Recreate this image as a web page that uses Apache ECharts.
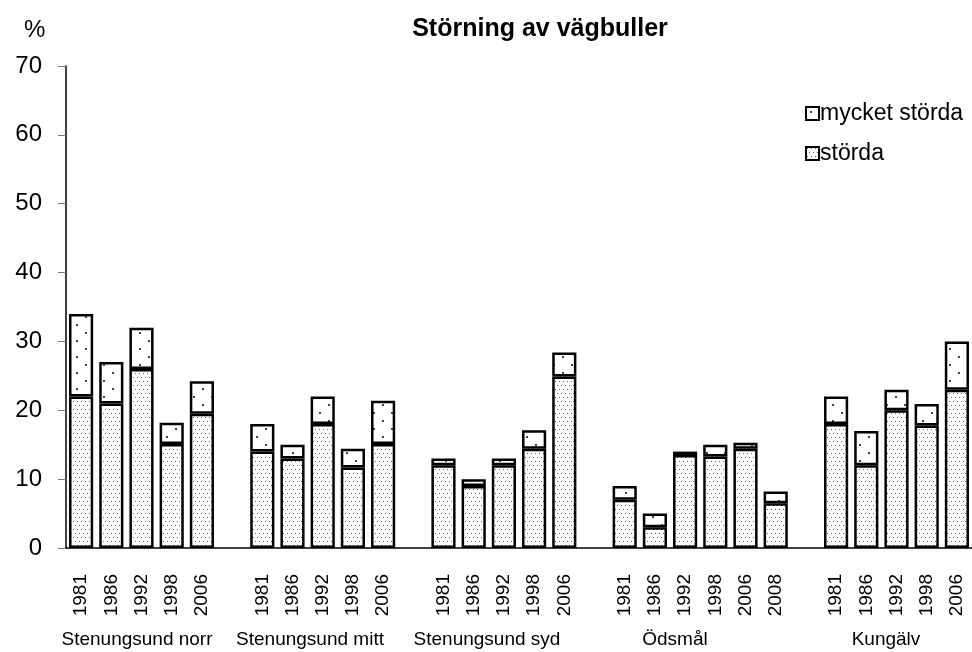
<!DOCTYPE html>
<html>
<head>
<meta charset="utf-8">
<script src="https://cdn.jsdelivr.net/npm/echarts@6/dist/echarts.min.js"></script>
<style>
  html, body { margin: 0; padding: 0; background: #fff; }
  #chart { width: 972px; height: 652px; }
</style>
</head>
<body>
<div id="chart"></div>
<script>
const groupNames = ['Stenungsund norr', 'Stenungsund mitt', 'Stenungsund syd', 'Ödsmål', 'Kungälv']
const groupYears = [
  ['1981', '1986', '1992', '1998', '2006'],
  ['1981', '1986', '1992', '1998', '2006'],
  ['1981', '1986', '1992', '1998', '2006'],
  ['1981', '1986', '1992', '1998', '2006', '2008'],
  ['1981', '1986', '1992', '1998', '2006'],
]
// bottom segment
const storda = [
  [22, 21, 26, 15.1, 19.5],
  [14, 13, 18, 11.7, 15.1],
  [12, 9, 12, 14.4, 24.9],
  [7, 3, 13.5, 13.3, 14.4, 6.5],
  [18, 12, 20, 17.8, 23],
]
// top segment
const mycketStorda = [
  [12, 6, 6, 3.1, 4.7],
  [4, 2, 4, 2.7, 6.3],
  [1, 1, 1, 2.7, 3.5],
  [2, 2, 0.5, 1.7, 0.9, 1.7],
  [4, 5, 3, 3.1, 7],
]
const yTicks = [0, 10, 20, 30, 40, 50, 60, 70]
// label centres
const groupLabelX = [137, 310, 487, 675, 886]

const font = '"Liberation Sans", Arial, sans-serif'

// flatten with one empty slot between groups
const categories = []
const bottomData = []
const topData = []
groupYears.forEach((ys, g) => {
  if (g > 0) {
    categories.push('')
    bottomData.push('-')
    topData.push('-')
  }
  ys.forEach((y, i) => {
    categories.push(y)
    bottomData.push(storda[g][i])
    topData.push(mycketStorda[g][i])
  })
})

function dotPattern(w, h, dots, color, size) {
  const c = document.createElement('canvas')
  c.width = w
  c.height = h
  const ctx = c.getContext('2d')
  ctx.fillStyle = '#fff'
  ctx.fillRect(0, 0, w, h)
  ctx.fillStyle = color
  dots.forEach(([x, y]) => ctx.fillRect(x, y, size, size))
  return { image: c, repeat: 'repeat' }
}

const densePattern = dotPattern(8, 8, [[1, 1], [5, 1], [3, 5], [7, 5]], '#666', 1)
const sparsePattern = dotPattern(18, 16, [[4, 4], [13, 12]], '#444', 2)

const chart = echarts.init(document.getElementById('chart'))
chart.setOption({
  animation: false,
  title: {
    text: 'Störning av vägbuller',
    left: 535,
    top: 12,
    textAlign: 'center',
    textStyle: { fontFamily: font, fontSize: 25, fontWeight: 'bold', color: '#000' },
  },
  legend: {
    orient: 'vertical',
    left: 800,
    top: 97,
    itemWidth: 13,
    itemHeight: 13,
    itemGap: 17,
    icon: 'rect',
    data: ['mycket störda', 'störda'],
    textStyle: { fontFamily: font, fontSize: 23, color: '#000', padding: [0, 0, 0, -4] },
  },
  grid: { left: 66, right: 0, top: 66, bottom: 104, containLabel: false },
  xAxis: {
    type: 'category',
    data: categories,
    axisLine: { lineStyle: { color: '#000', width: 1.5 } },
    axisTick: { show: false },
    axisLabel: {
      interval: 0,
      rotate: 90,
      margin: 26,
      fontFamily: font,
      fontSize: 19,
      color: '#000',
    },
  },
  yAxis: {
    type: 'value',
    min: yTicks[0],
    max: yTicks[yTicks.length - 1],
    interval: 10,
    splitLine: { show: false },
    axisLine: { show: true, lineStyle: { color: '#000', width: 1.5 } },
    axisTick: { show: true, length: 8, lineStyle: { color: '#777' } },
    axisLabel: { margin: 24, fontFamily: font, fontSize: 24, color: '#000' },
  },
  graphic: [
    {
      type: 'text',
      left: 24,
      top: 18,
      style: { text: '%', font: '24px ' + font, fill: '#000' },
    },
    ...groupNames.map((name, i) => ({
      type: 'text',
      x: groupLabelX[i],
      y: 640,
      style: {
        text: name,
        font: '19px ' + font,
        fill: '#000',
        align: 'center',
        verticalAlign: 'middle',
      },
    })),
  ],
  series: [
    {
      name: 'störda',
      type: 'bar',
      stack: 'total',
      barWidth: '80%',
      data: bottomData,
      itemStyle: { color: densePattern, borderColor: '#000', borderWidth: 2.5 },
    },
    {
      name: 'mycket störda',
      type: 'bar',
      stack: 'total',
      barWidth: '80%',
      data: topData,
      itemStyle: { color: sparsePattern, borderColor: '#000', borderWidth: 2.5 },
    },
  ],
})
</script>
</body>
</html>
